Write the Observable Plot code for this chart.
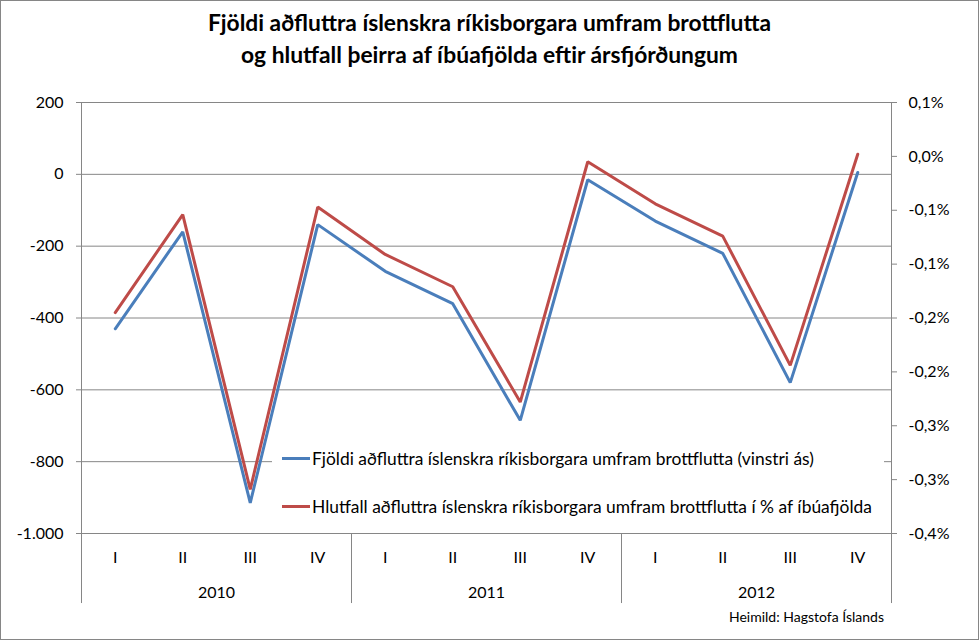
<!DOCTYPE html>
<html><head><meta charset="utf-8">
<script src="https://cdn.jsdelivr.net/npm/d3@7"></script>
<script src="https://cdn.jsdelivr.net/npm/@observablehq/plot@0.6"></script>
<style>
body{margin:0;background:#fff;}
#chart{position:relative;width:979px;height:640px;overflow:hidden;font-family:Lato,"Open Sans",sans-serif;color:#000;background:#fff;}
#plot{position:absolute;left:0;top:0;}
#border{position:absolute;left:0;top:0;width:979px;height:640px;box-sizing:border-box;border:1px solid #868686;pointer-events:none;}
#title{position:absolute;left:0;top:6px;width:979px;text-align:center;font-weight:bold;font-size:22.8px;line-height:32px;}
#legend{position:absolute;left:272px;top:440px;width:612px;height:84px;background:#fff;}
.li{position:absolute;left:10px;height:20px;display:flex;align-items:center;font-size:17.4px;white-space:nowrap;}
.sw{width:28px;height:3px;margin-right:2px;}
#caption{position:absolute;right:95px;top:609px;font-size:14px;line-height:16px;white-space:nowrap;}
</style></head>
<body>
<div id="chart">
  <div id="plot"></div>
  <div id="title">Fjöldi aðfluttra íslenskra ríkisborgara umfram brottflutta<br>og hlutfall þeirra af íbúafjölda eftir ársfjórðungum</div>
  <div id="legend"></div>
  <div id="caption">Heimild: Hagstofa Íslands</div>
  <div id="border"></div>
</div>
<script>
const years = ["2010", "2011", "2012"];
const quarterNames = ["I", "II", "III", "IV"];
// Fjöldi aðfluttra umfram brottflutta (vinstri ás)
const fjoldi = [-430, -160, -915, -140, -270, -360, -685, -15, -130, -220, -580, 5];
// Hlutfall í % af íbúafjölda (hægri ás)
const hlutfall = [-0.145, -0.054, -0.309, -0.047, -0.091, -0.121, -0.228, -0.005, -0.044, -0.074, -0.194, 0.002];
const leftTicks = [200, 0, -200, -400, -600, -800, -1000];
const leftTickLabels = ["200", "0", "-200", "-400", "-600", "-800", "-1.000"];
const rightTicks = [0.05, 0, -0.05, -0.1, -0.15, -0.2, -0.25, -0.3, -0.35];
const rightTickLabels = ["0,1%", "0,0%", "-0,1%", "-0,1%", "-0,2%", "-0,2%", "-0,3%", "-0,3%", "-0,4%"];
const seriesNames = [
  "Fjöldi aðfluttra íslenskra ríkisborgara umfram brottflutta (vinstri ás)",
  "Hlutfall aðfluttra íslenskra ríkisborgara umfram brottflutta í % af íbúafjölda"
];
const seriesColors = ["#4a7ebb", "#be4b48"];

const rows = fjoldi.map((v, i) => ({
  i, year: years[Math.floor(i / 4)], q: quarterNames[i % 4], fjoldi: v, pct: hlutfall[i]
}));

// secondary axis: 0.05% .. -0.35% mapped onto 200 .. -1000
const toLeft = p => 200 + (p - 0.05) * 3000;
const leftMap = new Map(leftTicks.map((t, k) => [t, leftTickLabels[k]]));
const rightVals = rightTicks.map(toLeft);
const rightMap = new Map(rightVals.map((t, k) => [t, rightTickLabels[k]]));

const bottomY = -1195; // extent of the category band below the frame
const yearBounds = years.map((y, k) => k * 4 - 0.5).concat([years.length * 4 - 0.5]);
const gray = "#868686";

const chart = Plot.plot({
  width: 979, height: 640,
  marginLeft: 81, marginRight: 88, marginTop: 102, marginBottom: 107,
  x: {type: "linear", domain: [-0.5, rows.length - 0.5], axis: null},
  y: {domain: [-1000, 200], axis: null, label: null},
  style: {fontFamily: "Lato, 'Open Sans', sans-serif", fontSize: "16px", color: "#000", background: "transparent"},
  marks: [
    Plot.ruleY(leftTicks, {stroke: gray, strokeWidth: 1}),
    Plot.ruleX([yearBounds[0], yearBounds[yearBounds.length - 1]], {y1: 200, y2: bottomY, stroke: gray}),
    Plot.ruleX(yearBounds.slice(1, -1), {y1: -1000, y2: bottomY, stroke: gray}),
    Plot.axisY(leftTicks, {anchor: "left", tickSize: 5, tickPadding: 13, stroke: gray, fill: "#000", label: null, tickFormat: d => leftMap.get(d)}),
    Plot.axisY(rightVals, {anchor: "right", tickSize: 5, tickPadding: 12, stroke: gray, fill: "#000", label: null, tickFormat: d => rightMap.get(d)}),
    Plot.axisX(rows.map(d => d.i), {anchor: "bottom", tickSize: 0, tickPadding: 18, fill: "#000", label: null, tickFormat: i => rows[i].q}),
    Plot.text(years, {x: (d, k) => k * 4 + 1.5, frameAnchor: "bottom", dy: 59, text: d => d, fill: "#000", lineAnchor: "middle"}),
    Plot.line(rows, {x: "i", y: "fjoldi", stroke: seriesColors[0], strokeWidth: 3, strokeLinejoin: "miter"}),
    Plot.line(rows, {x: "i", y: d => toLeft(d.pct), stroke: seriesColors[1], strokeWidth: 3, strokeLinejoin: "miter"})
  ]
});
document.getElementById("plot").appendChild(chart);

const legend = document.getElementById("legend");
seriesNames.forEach((name, k) => {
  const li = document.createElement("div");
  li.className = "li";
  li.style.top = (k === 0 ? 8 : 56) + "px";
  const sw = document.createElement("span");
  sw.className = "sw";
  sw.style.background = seriesColors[k];
  const tx = document.createElement("span");
  tx.textContent = name;
  li.appendChild(sw); li.appendChild(tx);
  legend.appendChild(li);
});
</script>
</body></html>
